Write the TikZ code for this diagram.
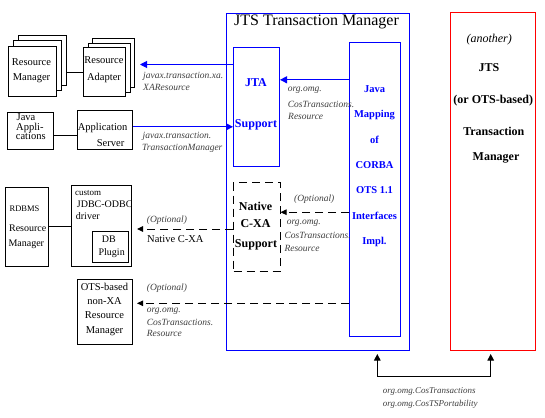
\documentclass[tikz,border=0pt]{standalone}
\usepackage{fontspec}
\setmainfont{Liberation Serif}
\usetikzlibrary{arrows.meta}
\begin{document}
\begin{tikzpicture}[x=1pt,y=-1pt,
  box/.style={draw=black, line width=1pt, fill=white, inner sep=0pt, anchor=north west},
  bluebox/.style={box, draw=blue},
  redbox/.style={box, draw=red},
  dbox/.style={box, dash pattern=on 8pt off 5pt},
  txt/.style={inner sep=0pt, anchor=base, font=\fontsize{10.5}{12}\selectfont},
  txtw/.style={txt, anchor=base west},
  lbl/.style={inner sep=0pt, anchor=base west, font=\fontsize{9.5}{11}\selectfont\itshape, text=black!75},
  bt/.style={inner sep=0pt, anchor=base, font=\fontsize{12}{14}\selectfont\bfseries},
  jmt/.style={inner sep=0pt, anchor=base, font=\fontsize{10.5}{12}\selectfont\bfseries, text=blue},
  bluearrow/.style={draw=blue, line width=1pt, -{Triangle[length=7pt,width=7pt]}},
  darrow/.style={draw=black, line width=1pt, dash pattern=on 8pt off 5pt, -{Triangle[length=6pt,width=5.5pt]}},
  link/.style={draw=black, line width=1pt},
  barrow/.style={draw=black, line width=1pt, {Triangle[length=6.5pt,width=6.5pt]}-{Triangle[length=6.5pt,width=6.5pt]}, shorten <=3pt, shorten >=3pt}
]
\fill[white] (0,0) rectangle (545,417);
\useasboundingbox (0,0) rectangle (545,417);

% main containers
\node[bluebox, minimum width=183pt, minimum height=337pt] (jts) at (226,13) {};
\node[redbox, minimum width=85pt, minimum height=338pt] (other) at (450,12) {};
\node[bluebox, minimum width=46pt, minimum height=119pt] (jta) at (233,47) {};
\node[bluebox, minimum width=51pt, minimum height=294pt] (jm) at (349,42) {};
\node[dbox, minimum width=46.5pt, minimum height=89pt] (ncxa) at (233,182) {};

\node[inner sep=0pt, anchor=base, font=\fontsize{16}{18}\selectfont] (title) at (316.5,26) {JTS Transaction Manager};

% JTA support text
\node[bt, text=blue] (jta1) at (256,87) {JTA};
\node[bt, text=blue] (jta2) at (256,127) {Support};

% Java mapping text
\foreach \t [count=\i] in {Java,Mapping,of,CORBA,OTS 1.1,Interfaces,Impl.}
  \node[jmt] (jm\i) at (374.5,{92.5+25.33*(\i-1)}) {\t};

% Native C-XA text
\node[bt] (nc1) at (255.5,210) {Native};
\node[bt] (nc2) at (255.5,227) {C-XA};
\node[bt] (nc3) at (256,247) {Support};

% other TM text
\node[bt, font=\fontsize{12}{14}\selectfont\itshape] (ot1) at (489.2,43) {(another)};
\node[bt] (ot2) at (489,72) {JTS};
\node[bt] (ot3) at (493.3,103) {(or OTS-based)};
\node[bt] (ot4) at (493.8,135) {Transaction};
\node[bt] (ot5) at (496,160) {Manager};

% Resource manager stack
\node[box, minimum width=48pt, minimum height=50pt] (rm3) at (17.5,35) {};
\node[box, minimum width=48pt, minimum height=50pt] (rm2) at (12.5,40.5) {};
\node[box, minimum width=48pt, minimum height=50pt] (rm1) at (7.5,46) {};
\node[txt] (rmt1) at (31.5,65.3) {Resource};
\node[txt] (rmt2) at (31.5,80.3) {Manager};

% Resource adapter stack
\node[box, minimum width=42pt, minimum height=49pt] (ra3) at (92.3,38.3) {};
\node[box, minimum width=42pt, minimum height=49pt] (ra2) at (87.7,43) {};
\node[box, minimum width=42pt, minimum height=49pt] (ra1) at (83,47.5) {};
\node[txt] (rat1) at (104,64) {Resource};
\node[txt] (rat2) at (104,81) {Adapter};

\draw[link] (ra1.west -| rm3.east) -- (ra1.west);

% Java applications / application server
\node[box, minimum width=46pt, minimum height=37.5pt] (ja) at (7.3,111.5) {};
\node[txtw] (ja1) at (16.5,120.5) {Java};
\node[txtw] (ja2) at (16,130) {Appli-};
\node[txtw] (ja3) at (15.7,139.5) {cations};
\node[box, minimum width=55.6pt, minimum height=39pt] (as) at (76.7,110) {};
\node[txtw] (as1) at (77.7,130.2) {Application};
\node[txtw] (as2) at (96.7,146) {Server};
\draw[link] ([yshift=-4.75pt]ja.east) -- ([yshift=-4.75pt]ja.east -| as.west);

% RDBMS / driver
\node[box, minimum width=43.3pt, minimum height=79.3pt] (rdb) at (5,186.7) {};
\node[txt, font=\fontsize{8.5}{10}\selectfont] (rdb1) at (24.5,211.3) {RDBMS};
\node[txt, font=\fontsize{10}{12}\selectfont] (rdb2) at (27.7,231.5) {Resource};
\node[txt, font=\fontsize{10}{12}\selectfont] (rdb3) at (26.3,246) {Manager};
\node[box, minimum width=60pt, minimum height=80.7pt] (drv) at (71,185) {};
\node[txtw, font=\fontsize{9}{11}\selectfont] (drv1) at (75,195) {custom};
\node[txtw, font=\fontsize{10}{12}\selectfont] (drv2) at (76.7,207.3) {JDBC-ODBC};
\node[txtw, font=\fontsize{10}{12}\selectfont] (drv3) at (75.7,219.5) {driver};
\node[box, minimum width=36pt, minimum height=31.3pt] (dbp) at (92.3,231) {};
\node[txt, font=\fontsize{10}{12}\selectfont] (dbp1) at (108.8,242.7) {DB};
\node[txt, font=\fontsize{10}{12}\selectfont] (dbp2) at (111.7,255) {Plugin};
\draw[link] ([yshift=0.7pt]rdb.east) -- ([yshift=0.7pt]rdb.east -| drv.west);

% OTS-based box
\node[box, minimum width=54.4pt, minimum height=65pt] (ots) at (77.3,279.3) {};
\node[txt] (ots1) at (104.5,290.6) {OTS-based};
\node[txt] (ots2) at (104.5,304.3) {non-XA};
\node[txt] (ots3) at (104.5,318.3) {Resource};
\node[txt] (ots4) at (104.5,333.3) {Manager};

% connectors
\draw[bluearrow] ([yshift=42.5pt]jta.west) -- ([yshift=42.5pt,xshift=14pt]jta.west -| ra1.east);
\draw[bluearrow] ([yshift=3.2pt]as.east) -- ([yshift=3.2pt]as.east -| jta.west);
\draw[bluearrow] ([yshift=27.2pt]jta.east -| jm.west) -- ([yshift=27.2pt]jta.east);
\draw[darrow] ([yshift=14.8pt]ncxa.east -| jm.west) -- ([yshift=14.8pt]ncxa.east);
\coordinate (cxaend) at (137,229);
\draw[darrow] (cxaend -| ncxa.west) -- (cxaend);
\coordinate (otsend) at (137,303.3);
\draw[darrow] (otsend -| jm.west) -- (otsend);
\coordinate (busl) at (377.3,376.7);
\coordinate (busr) at (490.7,376.7);
\draw[barrow] (busl |- jts.south) -- (busl) -- (busr) -- (busr |- other.south);

% labels
\node[lbl] (l1) at (143,79) {javax.transaction.xa.};
\node[lbl] (l2) at (143,90.4) {XAResource};
\node[lbl] (l3) at (142.5,138.5) {javax.transaction.};
\node[lbl] (l4) at (142,150.8) {TransactionManager};
\node[lbl] (l5) at (287.7,91.5) {org.omg.};
\node[lbl] (l6) at (287.7,107) {CosTransactions.};
\node[lbl] (l7) at (288,119.8) {Resource};
\node[lbl] (l8) at (294,201.5) {(Optional)};
\node[lbl] (l9) at (286.7,224.5) {org.omg.};
\node[lbl] (l10) at (284.3,238.8) {CosTransactions.};
\node[lbl] (l11) at (284.3,251.4) {Resource};
\node[lbl] (l12) at (146.7,222) {(Optional)};
\node[txtw] (l13) at (147,242.3) {Native C-XA};
\node[lbl] (l14) at (146.7,290.8) {(Optional)};
\node[lbl] (l15) at (146.7,312.4) {org.omg.};
\node[lbl] (l16) at (146.7,325.4) {CosTransactions.};
\node[lbl] (l17) at (146.7,336.8) {Resource};
\node[lbl, font=\fontsize{9}{11}\selectfont\itshape] (l18) at (382.7,393) {org.omg.CosTransactions};
\node[lbl, font=\fontsize{9}{11}\selectfont\itshape] (l19) at (382.7,406.5) {org.omg.CosTSPortability};
\end{tikzpicture}
\end{document}
